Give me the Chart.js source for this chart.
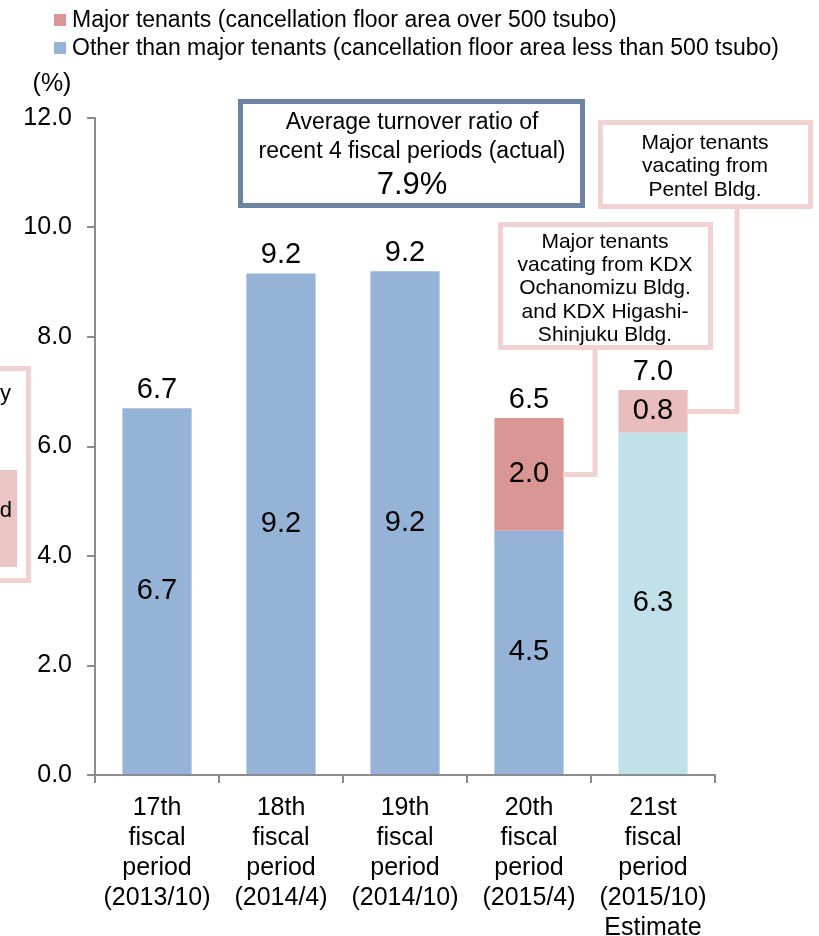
<!DOCTYPE html>
<html>
<head>
<meta charset="utf-8">
<script src="https://cdn.jsdelivr.net/npm/chart.js@4/dist/chart.umd.min.js"></script>
<style>
  body { margin: 0; background: #fff; }
  canvas { display: block; }
</style>
</head>
<body>
<canvas id="turnoverChart" width="819" height="936"></canvas>
<script>
// Turnover ratio by fiscal period (%)
const periods = [
  ["17th", "fiscal", "period", "(2013/10)"],
  ["18th", "fiscal", "period", "(2014/4)"],
  ["19th", "fiscal", "period", "(2014/10)"],
  ["20th", "fiscal", "period", "(2015/4)"],
  ["21st", "fiscal", "period", "(2015/10)", "Estimate"],
];
const otherValues = [6.7, 9.16, 9.2, 4.46, 6.25];
const majorValues = [null, null, null, 2.06, 0.78];
const otherLabels = ["6.7", "9.2", "9.2", "4.5", "6.3"];
const majorLabels = [null, null, null, "2.0", "0.8"];
const totalLabels = ["6.7", "9.2", "9.2", "6.5", "7.0"];
const yTicks = [0, 2, 4, 6, 8, 10, 12];

const FONT = "'Liberation Sans', Arial, sans-serif";
const BLUE = "#95B3D7";
const LIGHT_BLUE = "#C0E1E9";
const RED = "#D99694";
const PINK = "#E8BDBC";
const PINK_LINE = "#F1D2D2";
const BOX_BLUE = "#6C83A1";
const AXIS = "#8C8C8C";

function text(ctx, str, x, y, size, align) {
  ctx.font = size + "px " + FONT;
  ctx.fillStyle = "#000";
  ctx.textAlign = align || "center";
  ctx.textBaseline = "middle";
  ctx.fillText(str, x, y);
}

function box(ctx, x, y, w, h, color) {
  ctx.fillStyle = "#fff";
  ctx.fillRect(x, y, w, h);
  ctx.strokeStyle = color;
  ctx.lineWidth = 5;
  ctx.strokeRect(x + 2.5, y + 2.5, w - 5, h - 5);
}

function connector(ctx, pts) {
  ctx.strokeStyle = PINK_LINE;
  ctx.lineWidth = 5;
  ctx.beginPath();
  ctx.moveTo(pts[0][0], pts[0][1]);
  for (let i = 1; i < pts.length; i++) ctx.lineTo(pts[i][0], pts[i][1]);
  ctx.stroke();
}

// Value labels, legend and call-out boxes
const extrasPlugin = {
  id: "extras",
  afterDatasetsDraw(chart) {
    const ctx = chart.ctx;
    const otherMeta = chart.getDatasetMeta(0);
    const majorMeta = chart.getDatasetMeta(1);
    ctx.save();

    // connectors first, boxes sit on top of them
    const m20 = majorMeta.data[3];
    const m21 = majorMeta.data[4];
    connector(ctx, [[595, 350], [595, (m20.y + m20.base) / 2], [m20.x + m20.width / 2, (m20.y + m20.base) / 2]]);
    connector(ctx, [[737, 209], [737, (m21.y + m21.base) / 2], [m21.x + m21.width / 2, (m21.y + m21.base) / 2]]);

    periods.forEach((p, i) => {
      const o = otherMeta.data[i];
      text(ctx, otherLabels[i], o.x, (o.y + o.base) / 2, 29);
      let top = o.y;
      if (majorValues[i] !== null) {
        const m = majorMeta.data[i];
        text(ctx, majorLabels[i], m.x, (m.y + m.base) / 2, 29);
        top = m.y;
      }
      text(ctx, totalLabels[i], o.x, top - 18, 29);
    });

    // average box
    box(ctx, 238, 99, 347, 109, BOX_BLUE);
    text(ctx, "Average turnover ratio of", 412, 123, 23);
    text(ctx, "recent 4 fiscal periods (actual)", 412, 152, 23);
    text(ctx, "7.9%", 412, 185, 31);

    // Pentel box
    box(ctx, 598, 120, 215, 89, PINK_LINE);
    ["Major tenants", "vacating from", "Pentel Bldg."].forEach((s, k) => {
      text(ctx, s, 705, 143 + k * 23.5, 21);
    });

    // KDX box
    box(ctx, 498, 222, 215, 128, PINK_LINE);
    ["Major tenants", "vacating from KDX", "Ochanomizu Bldg.", "and KDX Higashi-", "Shinjuku Bldg."].forEach((s, k) => {
      text(ctx, s, 605, 242 + k * 23.3, 21);
    });

    // box cut off at the left edge
    box(ctx, -10, 366, 41, 217, PINK_LINE);
    ctx.fillStyle = "#EBC4C4";
    ctx.fillRect(-5, 470, 22, 97);
    ctx.font = "22px " + FONT;
    ctx.fillStyle = "#000";
    ctx.textAlign = "right";
    ctx.textBaseline = "alphabetic";
    ctx.fillText("y", 11, 400);
    ctx.fillText("d", 12, 517);

    // legend
    ctx.fillStyle = RED;
    ctx.fillRect(54, 14, 12, 12);
    ctx.fillStyle = BLUE;
    ctx.fillRect(54, 42, 12, 12);
    text(ctx, "Major tenants (cancellation floor area over 500 tsubo)", 72, 21, 23, "left");
    text(ctx, "Other than major tenants (cancellation floor area less than 500 tsubo)", 72, 49, 23, "left");

    // unit
    text(ctx, "(%)", 52, 84, 25);
    ctx.restore();
  },
};

new Chart(document.getElementById("turnoverChart"), {
  type: "bar",
  data: {
    labels: periods,
    datasets: [
      {
        label: "Other than major tenants (cancellation floor area less than 500 tsubo)",
        data: otherValues,
        backgroundColor: [BLUE, BLUE, BLUE, BLUE, LIGHT_BLUE],
        barPercentage: 0.9,
        categoryPercentage: 0.62,
      },
      {
        label: "Major tenants (cancellation floor area over 500 tsubo)",
        data: majorValues,
        backgroundColor: [RED, RED, RED, RED, PINK],
        barPercentage: 0.9,
        categoryPercentage: 0.62,
      },
    ],
  },
  options: {
    responsive: false,
    animation: false,
    layout: { padding: { left: 0, right: 104, top: 118, bottom: 0 } },
    plugins: {
      legend: { display: false },
      tooltip: { enabled: false },
    },
    scales: {
      x: {
        stacked: true,
        afterFit: (s) => { s.height = 161; },
        grid: { offset: true, drawOnChartArea: false, tickLength: 8, color: AXIS, lineWidth: 2 },
        border: { color: AXIS, width: 2 },
        ticks: {
          color: "#000",
          font: { family: FONT, size: 25, lineHeight: 1.2 },
          padding: 10,
          maxRotation: 0,
          autoSkip: false,
        },
      },
      y: {
        stacked: true,
        min: 0,
        max: 12,
        afterFit: (s) => { s.width = 95; },
        afterBuildTicks: (s) => { s.ticks = yTicks.map((v) => ({ value: v })); },
        grid: { drawOnChartArea: false, tickLength: 8, color: AXIS, lineWidth: 2 },
        border: { color: AXIS, width: 2 },
        ticks: {
          color: "#000",
          font: { family: FONT, size: 25 },
          padding: 15,
          callback: (v) => v.toFixed(1),
        },
      },
    },
  },
  plugins: [extrasPlugin],
});
</script>
</body>
</html>
